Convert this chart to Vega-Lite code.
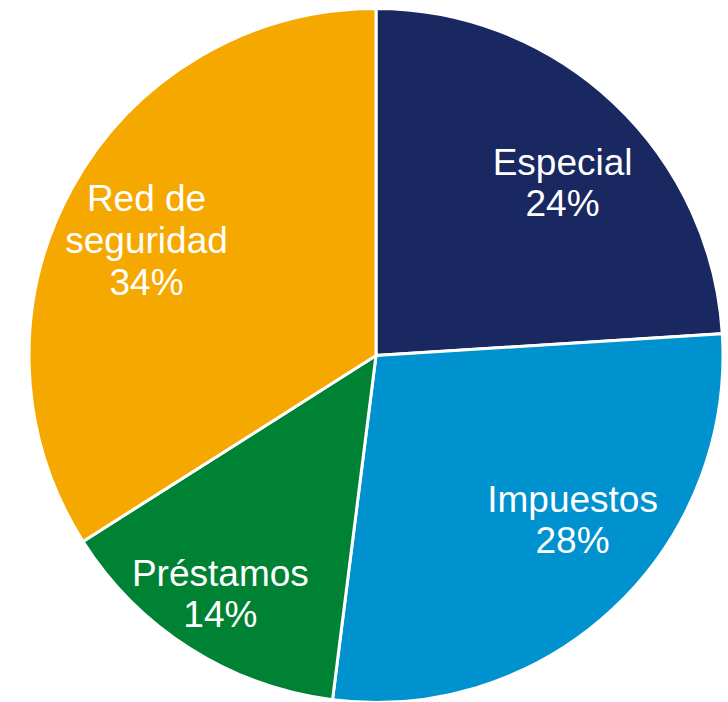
{
  "$schema": "https://vega.github.io/schema/vega-lite/v6.json",
  "width": 728,
  "height": 702,
  "autosize": {"type": "fit", "contains": "padding"},
  "padding": {"left": 27, "right": 3, "top": 9, "bottom": 0},
  "background": "white",
  "view": {"stroke": null},
  "data": {
    "values": [
      {"orden": 1, "categoria": "Especial", "porcentaje": 24, "etiqueta": "Especial\n24%"},
      {"orden": 2, "categoria": "Impuestos", "porcentaje": 28, "etiqueta": "Impuestos\n28%"},
      {"orden": 3, "categoria": "Préstamos", "porcentaje": 14, "etiqueta": "Préstamos\n14%"},
      {"orden": 4, "categoria": "Red de seguridad", "porcentaje": 34, "etiqueta": "Red de\nseguridad\n34%"}
    ]
  },
  "transform": [
    {"stack": "porcentaje", "groupby": [], "sort": [{"field": "orden", "order": "ascending"}], "as": ["t0", "t1"]},
    {"calculate": "(datum.t0 + datum.t1) / 2", "as": "tmid"}
  ],
  "layer": [
    {
      "mark": {"type": "arc", "outerRadius": 347, "stroke": "white", "strokeWidth": 3},
      "encoding": {
        "theta": {"field": "t0", "type": "quantitative", "scale": {"domain": [0, 100]}},
        "theta2": {"field": "t1"},
        "color": {
          "field": "categoria",
          "type": "nominal",
          "scale": {
            "domain": ["Especial", "Impuestos", "Préstamos", "Red de seguridad"],
            "range": ["#1a2862", "#0092cf", "#008235", "#f5a800"]
          },
          "legend": null
        }
      }
    },
    {
      "transform": [{"filter": "datum.categoria === 'Especial'"}],
      "mark": {"type": "text", "radius": 255, "dx": 12, "dy": -6, "color": "white", "font": "Liberation Sans", "fontSize": 37, "lineHeight": 41, "lineBreak": "\n", "align": "center", "baseline": "middle"},
      "encoding": {"theta": {"field": "tmid", "type": "quantitative", "stack": null}, "text": {"field": "etiqueta"}}
    },
    {
      "transform": [{"filter": "datum.categoria === 'Impuestos'"}],
      "mark": {"type": "text", "radius": 255, "dx": 22, "dy": -40, "color": "white", "font": "Liberation Sans", "fontSize": 37, "lineHeight": 41, "lineBreak": "\n", "align": "center", "baseline": "middle"},
      "encoding": {"theta": {"field": "tmid", "type": "quantitative", "stack": null}, "text": {"field": "etiqueta"}}
    },
    {
      "transform": [{"filter": "datum.categoria === 'Préstamos'"}],
      "mark": {"type": "text", "radius": 255, "dx": -19, "dy": 4, "color": "white", "font": "Liberation Sans", "fontSize": 37, "lineHeight": 41, "lineBreak": "\n", "align": "center", "baseline": "middle"},
      "encoding": {"theta": {"field": "tmid", "type": "quantitative", "stack": null}, "text": {"field": "etiqueta"}}
    },
    {
      "transform": [{"filter": "datum.categoria === 'Red de seguridad'"}],
      "mark": {"type": "text", "radius": 255, "dx": -6, "dy": -33, "color": "white", "font": "Liberation Sans", "fontSize": 37, "lineHeight": 42, "lineBreak": "\n", "align": "center", "baseline": "middle"},
      "encoding": {"theta": {"field": "tmid", "type": "quantitative", "stack": null}, "text": {"field": "etiqueta"}}
    }
  ]
}
